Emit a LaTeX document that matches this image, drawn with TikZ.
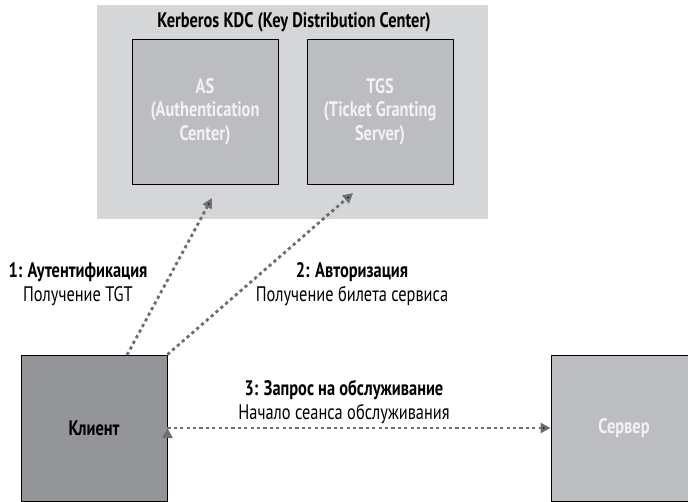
\documentclass[tikz,border=0pt]{standalone}
\usepackage{fontspec}
\setmainfont{PT Sans}[FakeStretch=0.78]
\usetikzlibrary{positioning,arrows.meta}
\definecolor{kdcgray}{HTML}{D5D6D8}
\definecolor{boxgray}{HTML}{BCBDC0}
\definecolor{cligray}{HTML}{939598}
\definecolor{arrgray}{HTML}{6D6E71}
\definecolor{txtwhite}{HTML}{F2F2F2}

\begin{document}
\begin{tikzpicture}[x=1pt,y=-1pt,
	every node/.style={font=\fontsize{21}{23.5}\selectfont},
	unit/.style={rectangle,draw=black,line width=0.9pt,minimum width=146pt,minimum height=145pt,
		align=center,inner sep=0pt},
	msg/.style={align=center,inner sep=0pt},
	flow/.style={draw=arrgray,line width=2.8pt,dash pattern=on 3.2pt off 3.2pt,
		-{Triangle[length=10pt,width=10pt]},shorten >=0pt}]
	\useasboundingbox (0,0) rectangle (688,501);
	\clip (0,0) rectangle (688,501);
	% key distribution center
	\node[fill=kdcgray,minimum width=391pt,minimum height=214pt,inner sep=0pt] (kdc) at (292.5,111.5) {};
	\node[inner sep=0pt] (title) at (294,22) {\bfseries Kerberos KDC (Key Distribution Center)};
	\node[unit,fill=boxgray,text=txtwhite] (as)  at (205,111.5) {\bfseries AS\\\bfseries (Authentication\\\bfseries Center)};
	\node[unit,fill=boxgray,text=txtwhite] (tgs) at (380,111.5) {\bfseries TGS\\\bfseries (Ticket Granting\\\bfseries Server)};
	% client and server
	\node[unit,fill=cligray,minimum height=146pt] (client) at (94,428) {\bfseries Клиент};
	\node[unit,fill=boxgray,text=txtwhite,minimum height=146pt] (server) at (624,428) {\bfseries Сервер};
	\coordinate (c1) at (127,355);
	\coordinate (t1) at (212,198);
	\coordinate (t2) at (353,193);
	% labels
	\node[msg] (l1) at (78,284) {\bfseries 1: Аутентификация\\Получение TGT};
	\node[msg] (l2) at (352,284) {\bfseries 2: Авторизация\\Получение билета сервиса};
	\node[msg] (l3) at (344,402) {\bfseries 3: Запрос на обслуживание\\Начало сеанса обслуживания};
	\path[flow]
	(c1) edge (t1)
	(client.north east) edge (t2)
	(client.east) edge (server.west);
\end{tikzpicture}
\end{document}
